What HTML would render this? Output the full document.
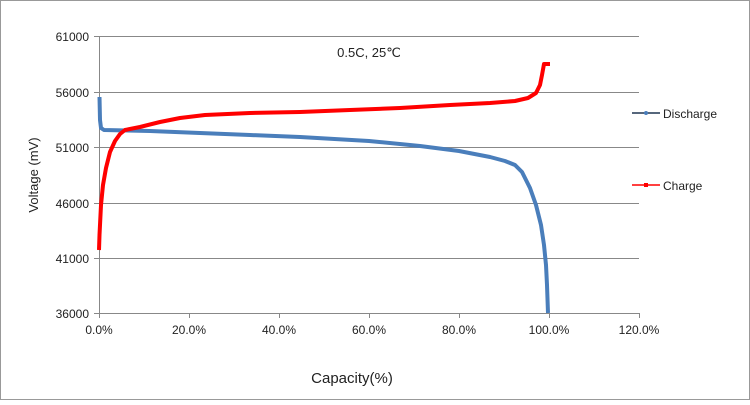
<!DOCTYPE html>
<html><head><style>
body{margin:0;background:#fff;}
svg text{font-family:"Liberation Sans",sans-serif;fill:#222;}
</style></head><body>
<svg width="750" height="400" viewBox="0 0 750 400" xmlns="http://www.w3.org/2000/svg">
<rect x="0.5" y="0.5" width="749" height="399" fill="#fff" stroke="#999"/>
<g stroke="#888" stroke-width="1">
<line x1="99" y1="36.5" x2="639" y2="36.5"/>
<line x1="99" y1="92.5" x2="639" y2="92.5"/>
<line x1="99" y1="147.5" x2="639" y2="147.5"/>
<line x1="99" y1="203.5" x2="639" y2="203.5"/>
<line x1="99" y1="258.5" x2="639" y2="258.5"/>
<line x1="99" y1="313.5" x2="639" y2="313.5"/>
<line x1="99.5" y1="36" x2="99.5" y2="318"/>
<line x1="94" y1="36.5" x2="99" y2="36.5"/><line x1="94" y1="92.5" x2="99" y2="92.5"/>
<line x1="94" y1="147.5" x2="99" y2="147.5"/><line x1="94" y1="203.5" x2="99" y2="203.5"/>
<line x1="94" y1="258.5" x2="99" y2="258.5"/><line x1="94" y1="313.5" x2="99" y2="313.5"/>
<line x1="189.5" y1="313" x2="189.5" y2="318"/><line x1="279.5" y1="313" x2="279.5" y2="318"/>
<line x1="369.5" y1="313" x2="369.5" y2="318"/><line x1="459.5" y1="313" x2="459.5" y2="318"/>
<line x1="549.5" y1="313" x2="549.5" y2="318"/><line x1="639.5" y1="313" x2="639.5" y2="318"/>
</g>
<g font-size="12" text-anchor="end">
<text x="89" y="41">61000</text><text x="89" y="97">56000</text><text x="89" y="152">51000</text>
<text x="89" y="208">46000</text><text x="89" y="263">41000</text><text x="89" y="318">36000</text>
</g>
<g font-size="12" text-anchor="middle">
<text x="99" y="334">0.0%</text><text x="189" y="334">20.0%</text><text x="279" y="334">40.0%</text>
<text x="369" y="334">60.0%</text><text x="459" y="334">80.0%</text><text x="549" y="334">100.0%</text><text x="639" y="334">120.0%</text>
</g>
<text x="369" y="57" font-size="13" text-anchor="middle">0.5C, 25℃</text>
<text x="352" y="383" font-size="15" text-anchor="middle">Capacity(%)</text>
<text transform="translate(38,175) rotate(-90)" font-size="13" text-anchor="middle">Voltage (mV)</text>
<path d="M99.5,97 L100,120 L101,128 L104,130 L150,131 L200,133 L250,135 L300,137 L369,141 L420,146 L459,151 L490,157 L505,161 L515,165 L522,172 L530,188 L536,205 L541,225 L544,245 L546,265 L547,285 L548,313" fill="none" stroke="#4a7ebb" stroke-width="4" stroke-linejoin="round"/>
<path d="M99,250 L99.5,235 L101,205 L103,185 L106,168 L110,152 L115,141 L120,134 L125,130 L140,127 L160,122 L180,118 L205,115 L250,113 L300,112 L350,110 L400,108 L450,105 L490,103 L515,101 L528,98 L536,93 L540,85 L542,75 L544,64 L550,64" fill="none" stroke="#f00" stroke-width="4" stroke-linejoin="round"/>
<line x1="632" y1="113" x2="660" y2="113" stroke="#1f3550" stroke-width="1.5"/>
<circle cx="646" cy="113" r="2" fill="#4a7ebb"/>
<text x="663" y="118" font-size="12">Discharge</text>
<line x1="632" y1="185" x2="660" y2="185" stroke="#f00" stroke-width="1.5"/>
<rect x="644" y="183" width="4" height="4" fill="#f00"/>
<text x="663" y="190" font-size="12">Charge</text>
</svg>
</body></html>
